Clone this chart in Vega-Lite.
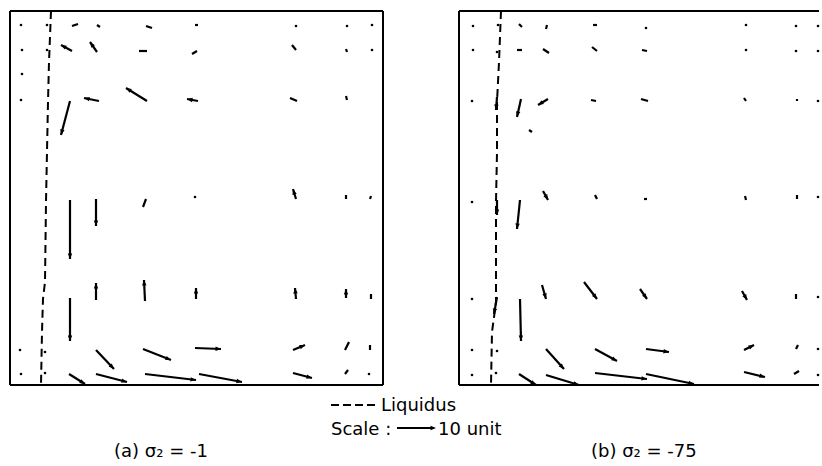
{
  "$schema": "https://vega.github.io/schema/vega-lite/v6.json",
  "background": "white",
  "padding": {"left": 9, "top": 7, "right": 0, "bottom": 0},
  "spacing": 76,
  "bounds": "flush",
  "config": {"view": {"stroke": null}, "text": {"font": "DejaVu Sans", "fontSize": 18, "color": "black"}},
  "datasets": {
    "one": [{}],
    "vectors": [
      {"p":"a","x":11,"y":14,"x2":11,"y2":14},
      {"p":"a","x":37,"y":14,"x2":37,"y2":14},
      {"p":"a","x":68,"y":13,"x2":62,"y2":15},
      {"p":"a","x":90,"y":16,"x2":87,"y2":14},
      {"p":"a","x":142,"y":17,"x2":136,"y2":15},
      {"p":"a","x":188,"y":14,"x2":185,"y2":14},
      {"p":"a","x":286,"y":15,"x2":286,"y2":15},
      {"p":"a","x":337,"y":15,"x2":337,"y2":15},
      {"p":"a","x":362,"y":14,"x2":362,"y2":14},
      {"p":"a","x":12,"y":39,"x2":12,"y2":39},
      {"p":"a","x":37,"y":39,"x2":37,"y2":39},
      {"p":"a","x":62,"y":40,"x2":51,"y2":34},
      {"p":"a","x":87,"y":41,"x2":80,"y2":31},
      {"p":"a","x":137,"y":40,"x2":129,"y2":40},
      {"p":"a","x":187,"y":40,"x2":182,"y2":43},
      {"p":"a","x":286,"y":39,"x2":282,"y2":34},
      {"p":"a","x":337,"y":41,"x2":336,"y2":38},
      {"p":"a","x":362,"y":39,"x2":362,"y2":39},
      {"p":"a","x":12,"y":63,"x2":12,"y2":63},
      {"p":"a","x":11,"y":89,"x2":11,"y2":89},
      {"p":"a","x":60,"y":90,"x2":51,"y2":124},
      {"p":"a","x":89,"y":90,"x2":74,"y2":87},
      {"p":"a","x":137,"y":90,"x2":116,"y2":77},
      {"p":"a","x":188,"y":90,"x2":177,"y2":88},
      {"p":"a","x":287,"y":90,"x2":280,"y2":87},
      {"p":"a","x":337,"y":89,"x2":336,"y2":85},
      {"p":"a","x":60,"y":189,"x2":60,"y2":248},
      {"p":"a","x":86,"y":188,"x2":86,"y2":215},
      {"p":"a","x":136,"y":188,"x2":133,"y2":196},
      {"p":"a","x":185,"y":186,"x2":185,"y2":186},
      {"p":"a","x":286,"y":188,"x2":283,"y2":178},
      {"p":"a","x":336,"y":188,"x2":336,"y2":184},
      {"p":"a","x":360,"y":188,"x2":361,"y2":185},
      {"p":"a","x":60,"y":287,"x2":60,"y2":330},
      {"p":"a","x":86,"y":289,"x2":86,"y2":272},
      {"p":"a","x":135,"y":290,"x2":134,"y2":269},
      {"p":"a","x":186,"y":288,"x2":186,"y2":277},
      {"p":"a","x":286,"y":288,"x2":285,"y2":277},
      {"p":"a","x":336,"y":287,"x2":336,"y2":278},
      {"p":"a","x":361,"y":288,"x2":361,"y2":283},
      {"p":"a","x":10,"y":339,"x2":10,"y2":339},
      {"p":"a","x":35,"y":341,"x2":35,"y2":341},
      {"p":"a","x":86,"y":339,"x2":104,"y2":358},
      {"p":"a","x":133,"y":338,"x2":161,"y2":349},
      {"p":"a","x":185,"y":337,"x2":211,"y2":338},
      {"p":"a","x":283,"y":339,"x2":295,"y2":334},
      {"p":"a","x":335,"y":339,"x2":339,"y2":331},
      {"p":"a","x":360,"y":339,"x2":360,"y2":334},
      {"p":"a","x":11,"y":363,"x2":11,"y2":363},
      {"p":"a","x":35,"y":362,"x2":35,"y2":362},
      {"p":"a","x":59,"y":363,"x2":75,"y2":373},
      {"p":"a","x":86,"y":363,"x2":117,"y2":371},
      {"p":"a","x":135,"y":363,"x2":186,"y2":369},
      {"p":"a","x":189,"y":363,"x2":232,"y2":371},
      {"p":"a","x":283,"y":362,"x2":302,"y2":367},
      {"p":"a","x":335,"y":363,"x2":338,"y2":359},
      {"p":"a","x":359,"y":363,"x2":359,"y2":363},
      {"p":"b","x":14,"y":15,"x2":14,"y2":15},
      {"p":"b","x":39,"y":14,"x2":39,"y2":14},
      {"p":"b","x":63,"y":16,"x2":60,"y2":13},
      {"p":"b","x":87,"y":18,"x2":88,"y2":14},
      {"p":"b","x":138,"y":14,"x2":134,"y2":14},
      {"p":"b","x":187,"y":17,"x2":187,"y2":17},
      {"p":"b","x":287,"y":14,"x2":287,"y2":14},
      {"p":"b","x":337,"y":15,"x2":337,"y2":15},
      {"p":"b","x":359,"y":15,"x2":359,"y2":15},
      {"p":"b","x":14,"y":39,"x2":14,"y2":39},
      {"p":"b","x":38,"y":41,"x2":38,"y2":41},
      {"p":"b","x":63,"y":39,"x2":58,"y2":39},
      {"p":"b","x":90,"y":42,"x2":84,"y2":38},
      {"p":"b","x":138,"y":40,"x2":133,"y2":36},
      {"p":"b","x":188,"y":40,"x2":183,"y2":39},
      {"p":"b","x":287,"y":39,"x2":287,"y2":39},
      {"p":"b","x":337,"y":40,"x2":337,"y2":40},
      {"p":"b","x":359,"y":40,"x2":359,"y2":40},
      {"p":"b","x":13,"y":90,"x2":13,"y2":90},
      {"p":"b","x":38,"y":86,"x2":37,"y2":99},
      {"p":"b","x":62,"y":88,"x2":58,"y2":106},
      {"p":"b","x":89,"y":88,"x2":79,"y2":94},
      {"p":"b","x":73,"y":121,"x2":70,"y2":119},
      {"p":"b","x":137,"y":90,"x2":132,"y2":89},
      {"p":"b","x":189,"y":90,"x2":182,"y2":88},
      {"p":"b","x":287,"y":90,"x2":285,"y2":87},
      {"p":"b","x":338,"y":90,"x2":338,"y2":88},
      {"p":"b","x":359,"y":90,"x2":359,"y2":90},
      {"p":"b","x":13,"y":191,"x2":13,"y2":191},
      {"p":"b","x":38,"y":189,"x2":38,"y2":204},
      {"p":"b","x":61,"y":189,"x2":58,"y2":218},
      {"p":"b","x":84,"y":180,"x2":89,"y2":189},
      {"p":"b","x":136,"y":184,"x2":138,"y2":188},
      {"p":"b","x":185,"y":188,"x2":188,"y2":188},
      {"p":"b","x":286,"y":185,"x2":287,"y2":189},
      {"p":"b","x":338,"y":188,"x2":338,"y2":184},
      {"p":"b","x":359,"y":186,"x2":359,"y2":186},
      {"p":"b","x":13,"y":288,"x2":13,"y2":288},
      {"p":"b","x":38,"y":286,"x2":35,"y2":303},
      {"p":"b","x":61,"y":288,"x2":62,"y2":330},
      {"p":"b","x":83,"y":274,"x2":87,"y2":288},
      {"p":"b","x":125,"y":271,"x2":138,"y2":288},
      {"p":"b","x":181,"y":278,"x2":188,"y2":288},
      {"p":"b","x":283,"y":280,"x2":288,"y2":289},
      {"p":"b","x":337,"y":288,"x2":337,"y2":283},
      {"p":"b","x":359,"y":286,"x2":359,"y2":286},
      {"p":"b","x":13,"y":339,"x2":13,"y2":339},
      {"p":"b","x":38,"y":340,"x2":38,"y2":340},
      {"p":"b","x":87,"y":338,"x2":105,"y2":358},
      {"p":"b","x":136,"y":338,"x2":158,"y2":350},
      {"p":"b","x":187,"y":338,"x2":210,"y2":341},
      {"p":"b","x":285,"y":339,"x2":295,"y2":334},
      {"p":"b","x":337,"y":338,"x2":339,"y2":334},
      {"p":"b","x":359,"y":338,"x2":359,"y2":338},
      {"p":"b","x":13,"y":364,"x2":13,"y2":364},
      {"p":"b","x":37,"y":362,"x2":37,"y2":362},
      {"p":"b","x":60,"y":363,"x2":77,"y2":374},
      {"p":"b","x":87,"y":364,"x2":120,"y2":374},
      {"p":"b","x":136,"y":362,"x2":188,"y2":368},
      {"p":"b","x":187,"y":363,"x2":235,"y2":373},
      {"p":"b","x":285,"y":361,"x2":306,"y2":366},
      {"p":"b","x":335,"y":363,"x2":340,"y2":360},
      {"p":"b","x":359,"y":364,"x2":359,"y2":364}
    ],
    "liquidus": [
      {"p":"a","x":41,"y":0},{"p":"a","x":39,"y":51},{"p":"a","x":38,"y":91},{"p":"a","x":37,"y":141},
      {"p":"a","x":36,"y":191},{"p":"a","x":35,"y":271},{"p":"a","x":33,"y":288},{"p":"a","x":32,"y":321},{"p":"a","x":31,"y":374},
      {"p":"b","x":42,"y":0},{"p":"b","x":40,"y":51},{"p":"b","x":38,"y":91},{"p":"b","x":38,"y":141},
      {"p":"b","x":37,"y":191},{"p":"b","x":37,"y":271},{"p":"b","x":37,"y":291},{"p":"b","x":33,"y":321},{"p":"b","x":32,"y":374}
    ]
  },
  "hconcat": [
    {
      "width": 373,
      "height": 374,
      "layer": [
        {"data": {"name": "one"}, "mark": {"type": "rule", "color": "black", "strokeWidth": 2}, "encoding": {"y": {"datum": 0, "type": "quantitative", "scale": {"domain": [0, 374], "reverse": true}, "axis": null}}},
        {"data": {"name": "one"}, "mark": {"type": "rule", "color": "black", "strokeWidth": 2}, "encoding": {"y": {"datum": 374, "type": "quantitative", "scale": {"domain": [0, 374], "reverse": true}, "axis": null}}},
        {"data": {"name": "one"}, "mark": {"type": "rule", "color": "black", "strokeWidth": 2}, "encoding": {"x": {"datum": 0, "type": "quantitative", "scale": {"domain": [0, 373]}, "axis": null}}},
        {"data": {"name": "one"}, "mark": {"type": "rule", "color": "black", "strokeWidth": 2}, "encoding": {"x": {"datum": 373, "type": "quantitative", "scale": {"domain": [0, 373]}, "axis": null}}},
        {
          "data": {"name": "liquidus"},
          "transform": [{"filter": "datum.p === 'a'"}],
          "mark": {"type": "line", "color": "black", "strokeWidth": 2, "strokeDash": [8, 5]},
          "encoding": {
            "x": {"field": "x", "type": "quantitative", "scale": {"domain": [0, 373]}, "axis": null},
            "y": {"field": "y", "type": "quantitative", "scale": {"domain": [0, 374], "reverse": true}, "axis": null},
            "order": {"field": "y", "type": "quantitative"}
          }
        },
        {
          "data": {"name": "vectors"},
          "transform": [{"filter": "datum.p === 'a'"}],
          "mark": {"type": "rule", "color": "black", "strokeWidth": 2.2},
          "encoding": {
            "x": {"field": "x", "type": "quantitative", "scale": {"domain": [0, 373]}, "axis": null},
            "y": {"field": "y", "type": "quantitative", "scale": {"domain": [0, 374], "reverse": true}, "axis": null},
            "x2": {"field": "x2"},
            "y2": {"field": "y2"}
          }
        },
        {
          "data": {"name": "vectors"},
          "transform": [{"filter": "datum.p === 'a' && datum.x === datum.x2 && datum.y === datum.y2"}],
          "mark": {"type": "point", "filled": true, "color": "black", "opacity": 1, "size": 7},
          "encoding": {
            "x": {"field": "x", "type": "quantitative", "scale": {"domain": [0, 373]}, "axis": null},
            "y": {"field": "y", "type": "quantitative", "scale": {"domain": [0, 374], "reverse": true}, "axis": null}
          }
        },
        {
          "data": {"name": "vectors"},
          "transform": [
            {"filter": "datum.p === 'a'"},
            {"calculate": "sqrt(pow(datum.x2 - datum.x, 2) + pow(datum.y2 - datum.y, 2))", "as": "len"},
            {"filter": "datum.len >= 9"},
            {"calculate": "atan2(datum.x2 - datum.x, datum.y - datum.y2) * 180 / PI", "as": "ang"}
          ],
          "mark": {"type": "point", "filled": true, "color": "black", "opacity": 1, "size": 121, "shape": "M0,0L-0.4,1L0.4,1Z", "strokeWidth": 0},
          "encoding": {
            "x": {"field": "x2", "type": "quantitative", "scale": {"domain": [0, 373]}, "axis": null},
            "y": {"field": "y2", "type": "quantitative", "scale": {"domain": [0, 374], "reverse": true}, "axis": null},
            "angle": {"field": "ang", "type": "quantitative", "scale": null}
          }
        },
        {
          "data": {"name": "one"},
          "mark": {"type": "rule", "color": "black", "strokeWidth": 2, "strokeDash": [8, 4]},
          "encoding": {
            "x": {"datum": 321, "type": "quantitative", "scale": {"domain": [0, 373]}, "axis": null},
            "x2": {"datum": 366},
            "y": {"datum": 394, "type": "quantitative", "scale": {"domain": [0, 374], "reverse": true}, "axis": null}
          }
        },
        {
          "data": {"name": "one"},
          "mark": {"type": "text", "text": "Liquidus", "align": "left", "baseline": "alphabetic"},
          "encoding": {
            "x": {"datum": 371, "type": "quantitative", "scale": {"domain": [0, 373]}, "axis": null},
            "y": {"datum": 400, "type": "quantitative", "scale": {"domain": [0, 374], "reverse": true}, "axis": null}
          }
        },
        {
          "data": {"name": "one"},
          "mark": {"type": "text", "text": "Scale :", "align": "left", "baseline": "alphabetic"},
          "encoding": {
            "x": {"datum": 321, "type": "quantitative", "scale": {"domain": [0, 373]}, "axis": null},
            "y": {"datum": 424, "type": "quantitative", "scale": {"domain": [0, 374], "reverse": true}, "axis": null}
          }
        },
        {
          "data": {"name": "one"},
          "mark": {"type": "rule", "color": "black", "strokeWidth": 2},
          "encoding": {
            "x": {"datum": 387, "type": "quantitative", "scale": {"domain": [0, 373]}, "axis": null},
            "x2": {"datum": 424},
            "y": {"datum": 417, "type": "quantitative", "scale": {"domain": [0, 374], "reverse": true}, "axis": null}
          }
        },
        {
          "data": {"name": "one"},
          "mark": {"type": "point", "filled": true, "color": "black", "opacity": 1, "size": 121, "shape": "M0,0L-0.4,1L0.4,1Z", "strokeWidth": 0, "angle": 90},
          "encoding": {
            "x": {"datum": 426, "type": "quantitative", "scale": {"domain": [0, 373]}, "axis": null},
            "y": {"datum": 417, "type": "quantitative", "scale": {"domain": [0, 374], "reverse": true}, "axis": null}
          }
        },
        {
          "data": {"name": "one"},
          "mark": {"type": "text", "text": "10 unit", "align": "left", "baseline": "alphabetic"},
          "encoding": {
            "x": {"datum": 428, "type": "quantitative", "scale": {"domain": [0, 373]}, "axis": null},
            "y": {"datum": 424, "type": "quantitative", "scale": {"domain": [0, 374], "reverse": true}, "axis": null}
          }
        },
        {
          "data": {"name": "one"},
          "mark": {"type": "text", "text": "(a) σ₂ = -1", "align": "left", "baseline": "alphabetic"},
          "encoding": {
            "x": {"datum": 104, "type": "quantitative", "scale": {"domain": [0, 373]}, "axis": null},
            "y": {"datum": 446, "type": "quantitative", "scale": {"domain": [0, 374], "reverse": true}, "axis": null}
          }
        }
      ]
    },
    {
      "width": 360,
      "height": 374,
      "layer": [
        {"data": {"name": "one"}, "mark": {"type": "rule", "color": "black", "strokeWidth": 2}, "encoding": {"y": {"datum": 0, "type": "quantitative", "scale": {"domain": [0, 374], "reverse": true}, "axis": null}}},
        {"data": {"name": "one"}, "mark": {"type": "rule", "color": "black", "strokeWidth": 2}, "encoding": {"y": {"datum": 374, "type": "quantitative", "scale": {"domain": [0, 374], "reverse": true}, "axis": null}}},
        {"data": {"name": "one"}, "mark": {"type": "rule", "color": "black", "strokeWidth": 2}, "encoding": {"x": {"datum": 0, "type": "quantitative", "scale": {"domain": [0, 360]}, "axis": null}}},
        {
          "data": {"name": "liquidus"},
          "transform": [{"filter": "datum.p === 'b'"}],
          "mark": {"type": "line", "color": "black", "strokeWidth": 2, "strokeDash": [8, 5]},
          "encoding": {
            "x": {"field": "x", "type": "quantitative", "scale": {"domain": [0, 360]}, "axis": null},
            "y": {"field": "y", "type": "quantitative", "scale": {"domain": [0, 374], "reverse": true}, "axis": null},
            "order": {"field": "y", "type": "quantitative"}
          }
        },
        {
          "data": {"name": "vectors"},
          "transform": [{"filter": "datum.p === 'b'"}],
          "mark": {"type": "rule", "color": "black", "strokeWidth": 2.2},
          "encoding": {
            "x": {"field": "x", "type": "quantitative", "scale": {"domain": [0, 360]}, "axis": null},
            "y": {"field": "y", "type": "quantitative", "scale": {"domain": [0, 374], "reverse": true}, "axis": null},
            "x2": {"field": "x2"},
            "y2": {"field": "y2"}
          }
        },
        {
          "data": {"name": "vectors"},
          "transform": [{"filter": "datum.p === 'b' && datum.x === datum.x2 && datum.y === datum.y2"}],
          "mark": {"type": "point", "filled": true, "color": "black", "opacity": 1, "size": 7},
          "encoding": {
            "x": {"field": "x", "type": "quantitative", "scale": {"domain": [0, 360]}, "axis": null},
            "y": {"field": "y", "type": "quantitative", "scale": {"domain": [0, 374], "reverse": true}, "axis": null}
          }
        },
        {
          "data": {"name": "vectors"},
          "transform": [
            {"filter": "datum.p === 'b'"},
            {"calculate": "sqrt(pow(datum.x2 - datum.x, 2) + pow(datum.y2 - datum.y, 2))", "as": "len"},
            {"filter": "datum.len >= 9"},
            {"calculate": "atan2(datum.x2 - datum.x, datum.y - datum.y2) * 180 / PI", "as": "ang"}
          ],
          "mark": {"type": "point", "filled": true, "color": "black", "opacity": 1, "size": 121, "shape": "M0,0L-0.4,1L0.4,1Z", "strokeWidth": 0},
          "encoding": {
            "x": {"field": "x2", "type": "quantitative", "scale": {"domain": [0, 360]}, "axis": null},
            "y": {"field": "y2", "type": "quantitative", "scale": {"domain": [0, 374], "reverse": true}, "axis": null},
            "angle": {"field": "ang", "type": "quantitative", "scale": null}
          }
        },
        {
          "data": {"name": "one"},
          "mark": {"type": "text", "text": "(b) σ₂ = -75", "align": "left", "baseline": "alphabetic"},
          "encoding": {
            "x": {"datum": 132, "type": "quantitative", "scale": {"domain": [0, 360]}, "axis": null},
            "y": {"datum": 446, "type": "quantitative", "scale": {"domain": [0, 374], "reverse": true}, "axis": null}
          }
        }
      ]
    }
  ]
}
